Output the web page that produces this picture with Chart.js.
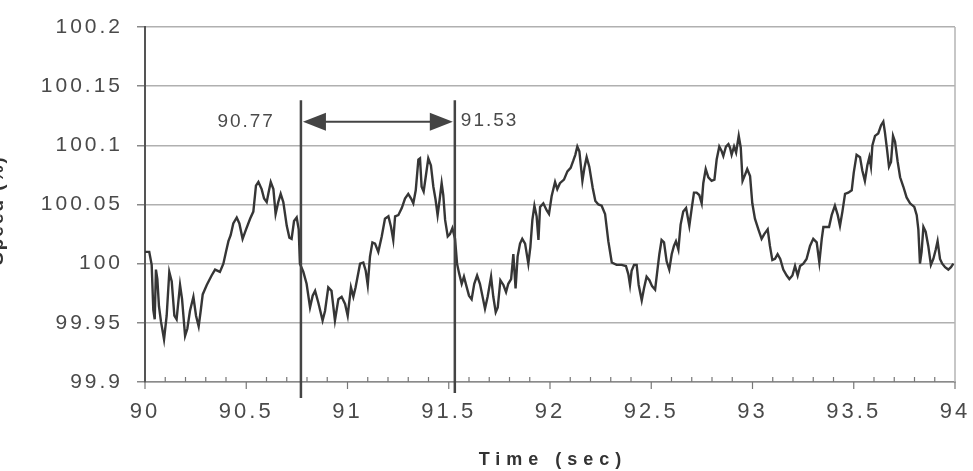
<!DOCTYPE html>
<html>
<head>
<meta charset="utf-8">
<script src="https://cdn.jsdelivr.net/npm/chart.js@4"></script>
<style>
    html, body { margin: 0; padding: 0; background: #fff; }
</style>
</head>
<body>
<canvas id="speed-chart" width="973" height="471"></canvas>
<script>
const timeSec = [
    90.000, 90.021, 90.033, 90.041, 90.048, 90.054, 90.061, 90.069, 90.079, 90.094, 90.107, 90.120, 90.132, 90.145, 90.156, 90.173,
    90.183, 90.198, 90.209, 90.222, 90.239, 90.252, 90.265, 90.275, 90.285, 90.305, 90.329, 90.346, 90.370, 90.387, 90.400, 90.412,
    90.423, 90.436, 90.453, 90.466, 90.482, 90.499, 90.519, 90.535, 90.548, 90.560, 90.576, 90.588, 90.601, 90.609, 90.621, 90.634,
    90.645, 90.658, 90.670, 90.683, 90.700, 90.713, 90.724, 90.736, 90.749, 90.759, 90.765, 90.782, 90.798, 90.815, 90.828, 90.840,
    90.856, 90.877, 90.889, 90.905, 90.921, 90.938, 90.955, 90.971, 90.988,
    91.001, 91.017, 91.029, 91.040, 91.062, 91.078, 91.090, 91.100, 91.111, 91.123, 91.136, 91.152, 91.169, 91.185, 91.202, 91.215,
    91.226, 91.235, 91.251, 91.268, 91.284, 91.300, 91.314, 91.325, 91.337, 91.350, 91.358, 91.366, 91.376, 91.386, 91.399, 91.412,
    91.424, 91.435, 91.445, 91.455, 91.465, 91.473, 91.482, 91.495, 91.506, 91.518, 91.531, 91.541, 91.551, 91.564, 91.575, 91.589,
    91.600, 91.613, 91.626, 91.640, 91.654, 91.666, 91.679, 91.692, 91.709, 91.720, 91.732, 91.742, 91.755, 91.770, 91.783, 91.794,
    91.808, 91.819, 91.830, 91.840, 91.852, 91.863, 91.877, 91.893, 91.903, 91.913, 91.923, 91.934, 91.943, 91.951, 91.967, 91.984,
    91.995, 92.008,
    92.025, 92.036, 92.049, 92.069, 92.086, 92.102, 92.115, 92.125, 92.135, 92.145, 92.160, 92.170, 92.181, 92.194, 92.211, 92.224,
    92.239, 92.255, 92.272, 92.288, 92.305, 92.329, 92.354, 92.375, 92.387, 92.395, 92.403, 92.415, 92.428, 92.438, 92.453, 92.464,
    92.477, 92.491, 92.504, 92.519, 92.530, 92.540, 92.551, 92.563, 92.576, 92.589, 92.601, 92.612, 92.622, 92.634, 92.645, 92.658,
    92.672, 92.688, 92.700, 92.711, 92.724, 92.737, 92.749, 92.757, 92.769, 92.782, 92.798, 92.812, 92.823, 92.836, 92.848, 92.856,
    92.869, 92.881, 92.889, 92.897, 92.909, 92.919, 92.932, 92.942, 92.951, 92.963, 92.974, 92.988, 92.999,
    93.012, 93.029, 93.045, 93.058, 93.075, 93.086, 93.098, 93.111, 93.124, 93.137, 93.152, 93.169, 93.182, 93.197, 93.210, 93.223,
    93.235, 93.251, 93.267, 93.284, 93.300, 93.317, 93.330, 93.342, 93.350, 93.366, 93.378, 93.391, 93.407, 93.421, 93.432, 93.444,
    93.457, 93.473, 93.490, 93.500, 93.514, 93.531, 93.542, 93.555, 93.567, 93.577, 93.585, 93.592, 93.605, 93.621, 93.635, 93.646,
    93.654, 93.664, 93.674, 93.684, 93.694, 93.704, 93.717, 93.729, 93.745, 93.761, 93.778, 93.799, 93.811, 93.819, 93.827, 93.835,
    93.844, 93.855, 93.868, 93.881, 93.893, 93.905, 93.914, 93.926, 93.937, 93.951, 93.967, 93.980, 93.992
];
const speedPct = [
    100.010, 100.010, 99.999, 99.961, 99.953, 99.995, 99.987, 99.964, 99.951, 99.936, 99.956, 99.993, 99.985, 99.956, 99.953, 99.982,
    99.970, 99.939, 99.945, 99.960, 99.972, 99.956, 99.947, 99.960, 99.974, 99.982, 99.990, 99.995, 99.993, 100.000, 100.010, 100.019,
    100.024, 100.034, 100.039, 100.034, 100.021, 100.029, 100.038, 100.044, 100.066, 100.069, 100.063, 100.055, 100.052, 100.059, 100.069, 100.063,
    100.042, 100.052, 100.059, 100.052, 100.032, 100.022, 100.021, 100.036, 100.039, 100.029, 100.000, 99.993, 99.983, 99.963, 99.973, 99.977,
    99.967, 99.952, 99.960, 99.980, 99.977, 99.952, 99.970, 99.972, 99.966,
    99.956, 99.980, 99.972, 99.980, 100.000, 100.001, 99.994, 99.982, 100.006, 100.018, 100.017, 100.010, 100.023, 100.038, 100.040, 100.031,
    100.020, 100.040, 100.041, 100.047, 100.055, 100.059, 100.055, 100.051, 100.062, 100.088, 100.089, 100.065, 100.061, 100.073, 100.089, 100.083,
    100.065, 100.054, 100.041, 100.054, 100.068, 100.058, 100.037, 100.023, 100.025, 100.030, 100.021, 100.000, 99.992, 99.983, 99.989, 99.980,
    99.973, 99.970, 99.983, 99.990, 99.983, 99.973, 99.962, 99.972, 99.989, 99.972, 99.959, 99.963, 99.986, 99.982, 99.976, 99.983,
    99.987, 100.008, 99.979, 100.006, 100.017, 100.021, 100.017, 100.000, 100.014, 100.037, 100.049, 100.040, 100.020, 100.048, 100.051, 100.045,
    100.042, 100.057,
    100.069, 100.063, 100.068, 100.071, 100.078, 100.081, 100.087, 100.092, 100.099, 100.095, 100.070, 100.081, 100.090, 100.082, 100.064, 100.053,
    100.050, 100.049, 100.042, 100.019, 100.001, 99.999, 99.999, 99.998, 99.991, 99.982, 99.994, 99.999, 99.999, 99.982, 99.969, 99.979,
    99.989, 99.986, 99.981, 99.978, 99.994, 100.008, 100.020, 100.018, 100.002, 99.995, 100.008, 100.015, 100.019, 100.012, 100.033, 100.044,
    100.047, 100.032, 100.047, 100.060, 100.060, 100.058, 100.051, 100.068, 100.080, 100.073, 100.070, 100.071, 100.088, 100.099, 100.095, 100.091,
    100.099, 100.101, 100.098, 100.092, 100.099, 100.094, 100.108, 100.098, 100.070, 100.075, 100.080, 100.074, 100.051,
    100.038, 100.029, 100.021, 100.025, 100.029, 100.015, 100.003, 100.004, 100.008, 100.004, 99.995, 99.990, 99.987, 99.990, 99.998, 99.990,
    99.998, 100.000, 100.004, 100.015, 100.021, 100.018, 100.001, 100.021, 100.031, 100.031, 100.031, 100.041, 100.049, 100.041, 100.032, 100.044,
    100.059, 100.060, 100.062, 100.077, 100.092, 100.090, 100.079, 100.070, 100.083, 100.090, 100.082, 100.100, 100.108, 100.110, 100.117, 100.120,
    100.111, 100.097, 100.082, 100.086, 100.108, 100.103, 100.086, 100.073, 100.065, 100.056, 100.051, 100.048, 100.041, 100.029, 100.000, 100.010,
    100.031, 100.027, 100.015, 99.999, 100.004, 100.012, 100.019, 100.004, 100.000, 99.997, 99.995, 99.997, 100.000
];

const yTicks = [99.9, 99.95, 100, 100.05, 100.1, 100.15, 100.2];
const yTickLabels = ["99.9", "99.95", "100", "100.05", "100.1", "100.15", "100.2"];
const xMajorTicks = [90, 90.5, 91, 91.5, 92, 92.5, 93, 93.5, 94];
const xTickLabels = ["90", "90.5", "91", "91.5", "92", "92.5", "93", "93.5", "94"];

// the period marked on the chart
const markerTimes = [90.77, 91.53];
const markerLabels = ["90.77", "91.53"];
const markerTop = 100.138;
const arrowLevel = 100.12;

const xTitle = "Time (sec)";
const yTitle = "Speed (%)";

function majorIndex(value) {
    return xMajorTicks.findIndex(v => Math.abs(v - value) < 1e-6);
}

// wide, scanned-looking tick text
const spacing = {
    id: "spacing",
    beforeDraw(chart) { chart.ctx.letterSpacing = "3px"; },
    beforeDatasetsDraw(chart) { chart.ctx.letterSpacing = "0px"; }
};

const annotate = {
    id: "annotate",
    afterDatasetsDraw(chart) {
        const { ctx, chartArea } = chart;
        const x = chart.scales.x;
        const y = chart.scales.y;
        ctx.save();

        // right frame line
        ctx.strokeStyle = "#b5b5b5";
        ctx.lineWidth = 1.5;
        ctx.beginPath();
        ctx.moveTo(chartArea.right, chartArea.top);
        ctx.lineTo(chartArea.right, chartArea.bottom);
        ctx.stroke();

        // x tick marks: majors down, minors up
        ctx.strokeStyle = "#777";
        ctx.lineWidth = 1.2;
        x.ticks.forEach(t => {
            const px = x.getPixelForValue(t.value);
            ctx.beginPath();
            ctx.moveTo(px, chartArea.bottom);
            ctx.lineTo(px, majorIndex(t.value) >= 0 ? chartArea.bottom + 7 : chartArea.bottom - 5);
            ctx.stroke();
        });

        // marker lines
        const top = y.getPixelForValue(markerTop);
        const ends = [16, 11];
        ctx.strokeStyle = "#444";
        ctx.lineWidth = 2.5;
        markerTimes.forEach((t, i) => {
            const px = x.getPixelForValue(t);
            ctx.beginPath();
            ctx.moveTo(px, top);
            ctx.lineTo(px, chartArea.bottom + ends[i]);
            ctx.stroke();
        });

        // double arrow
        const ay = y.getPixelForValue(arrowLevel);
        const x1 = x.getPixelForValue(markerTimes[0]) + 2;
        const x2 = x.getPixelForValue(markerTimes[1]) - 2;
        const head = 23, half = 9;
        ctx.lineWidth = 2;
        ctx.beginPath();
        ctx.moveTo(x1 + head - 2, ay);
        ctx.lineTo(x2 - head + 2, ay);
        ctx.stroke();
        ctx.fillStyle = "#444";
        ctx.beginPath();
        ctx.moveTo(x1, ay);
        ctx.lineTo(x1 + head, ay - half);
        ctx.lineTo(x1 + head, ay + half);
        ctx.closePath();
        ctx.fill();
        ctx.beginPath();
        ctx.moveTo(x2, ay);
        ctx.lineTo(x2 - head, ay - half);
        ctx.lineTo(x2 - head, ay + half);
        ctx.closePath();
        ctx.fill();

        // marker labels
        ctx.font = "19px 'Liberation Sans', Arial, sans-serif";
        ctx.fillStyle = "#4a4a4a";
        ctx.letterSpacing = "2px";
        ctx.textBaseline = "middle";
        ctx.textAlign = "right";
        ctx.fillText(markerLabels[0], x1 - 28, ay);
        ctx.textAlign = "left";
        ctx.fillText(markerLabels[1], x2 + 8, ay - 1);

        // axis titles
        ctx.font = "bold 18px 'Liberation Sans', Arial, sans-serif";
        ctx.fillStyle = "#333";
        ctx.letterSpacing = "6px";
        ctx.textAlign = "center";
        ctx.fillText(xTitle, (chartArea.left + chartArea.right) / 2 + 3, 460);

        // y title sits mostly off the left edge, as in the scan
        ctx.translate(3, 210);
        ctx.rotate(-Math.PI / 2);
        ctx.font = "bold 19px 'Liberation Sans', Arial, sans-serif";
        ctx.letterSpacing = "2px";
        ctx.textBaseline = "alphabetic";
        ctx.fillText(yTitle, 0, 0);
        ctx.restore();
    }
};

const ctxSpeed = document.getElementById("speed-chart").getContext("2d");

new Chart(ctxSpeed, {
    type: "line",
    data: {
        datasets: [{
            data: timeSec.map((t, i) => ({ x: t, y: speedPct[i] })),
            borderColor: "#363636",
            borderWidth: 2.4,
            pointRadius: 0,
            tension: 0,
            fill: false,
        }],
    },
    options: {
        responsive: false,
        animation: false,
        devicePixelRatio: 1,
        layout: { padding: { top: 27, right: 18, left: 0, bottom: 0 } },
        plugins: {
            legend: { display: false },
            tooltip: { enabled: false },
        },
        scales: {
            x: {
                type: "linear",
                min: 90,
                max: 94,
                afterFit: scale => {
                    scale.height = 89;
                    scale.paddingLeft = 0;
                    scale.paddingRight = 0;
                },
                ticks: {
                    stepSize: 0.1,
                    autoSkip: false,
                    maxRotation: 0,
                    padding: 17,
                    color: "#4a4a4a",
                    font: { family: "'Liberation Sans', Arial, sans-serif", size: 22 },
                    callback: value => {
                        const i = majorIndex(value);
                        return i >= 0 ? xTickLabels[i] : "";
                    },
                },
                grid: { display: false, drawTicks: false },
                border: { display: true, color: "#8a8a8a", width: 1.5 },
            },
            y: {
                min: 99.9,
                max: 100.2,
                afterFit: scale => {
                    scale.width = 145;
                    scale.paddingTop = 0;
                    scale.paddingBottom = 0;
                },
                afterBuildTicks: scale => { scale.ticks = yTicks.map(v => ({ value: v })); },
                ticks: {
                    padding: 14,
                    color: "#4a4a4a",
                    font: { family: "'Liberation Sans', Arial, sans-serif", size: 21 },
                    callback: (value, index) => yTickLabels[index],
                },
                grid: { color: "#b0b0b0", lineWidth: 1.5, tickLength: 8, tickColor: "#888" },
                border: { display: true, color: "#555", width: 2 },
            },
        },
    },
    plugins: [spacing, annotate],
});
</script>
</body>
</html>
